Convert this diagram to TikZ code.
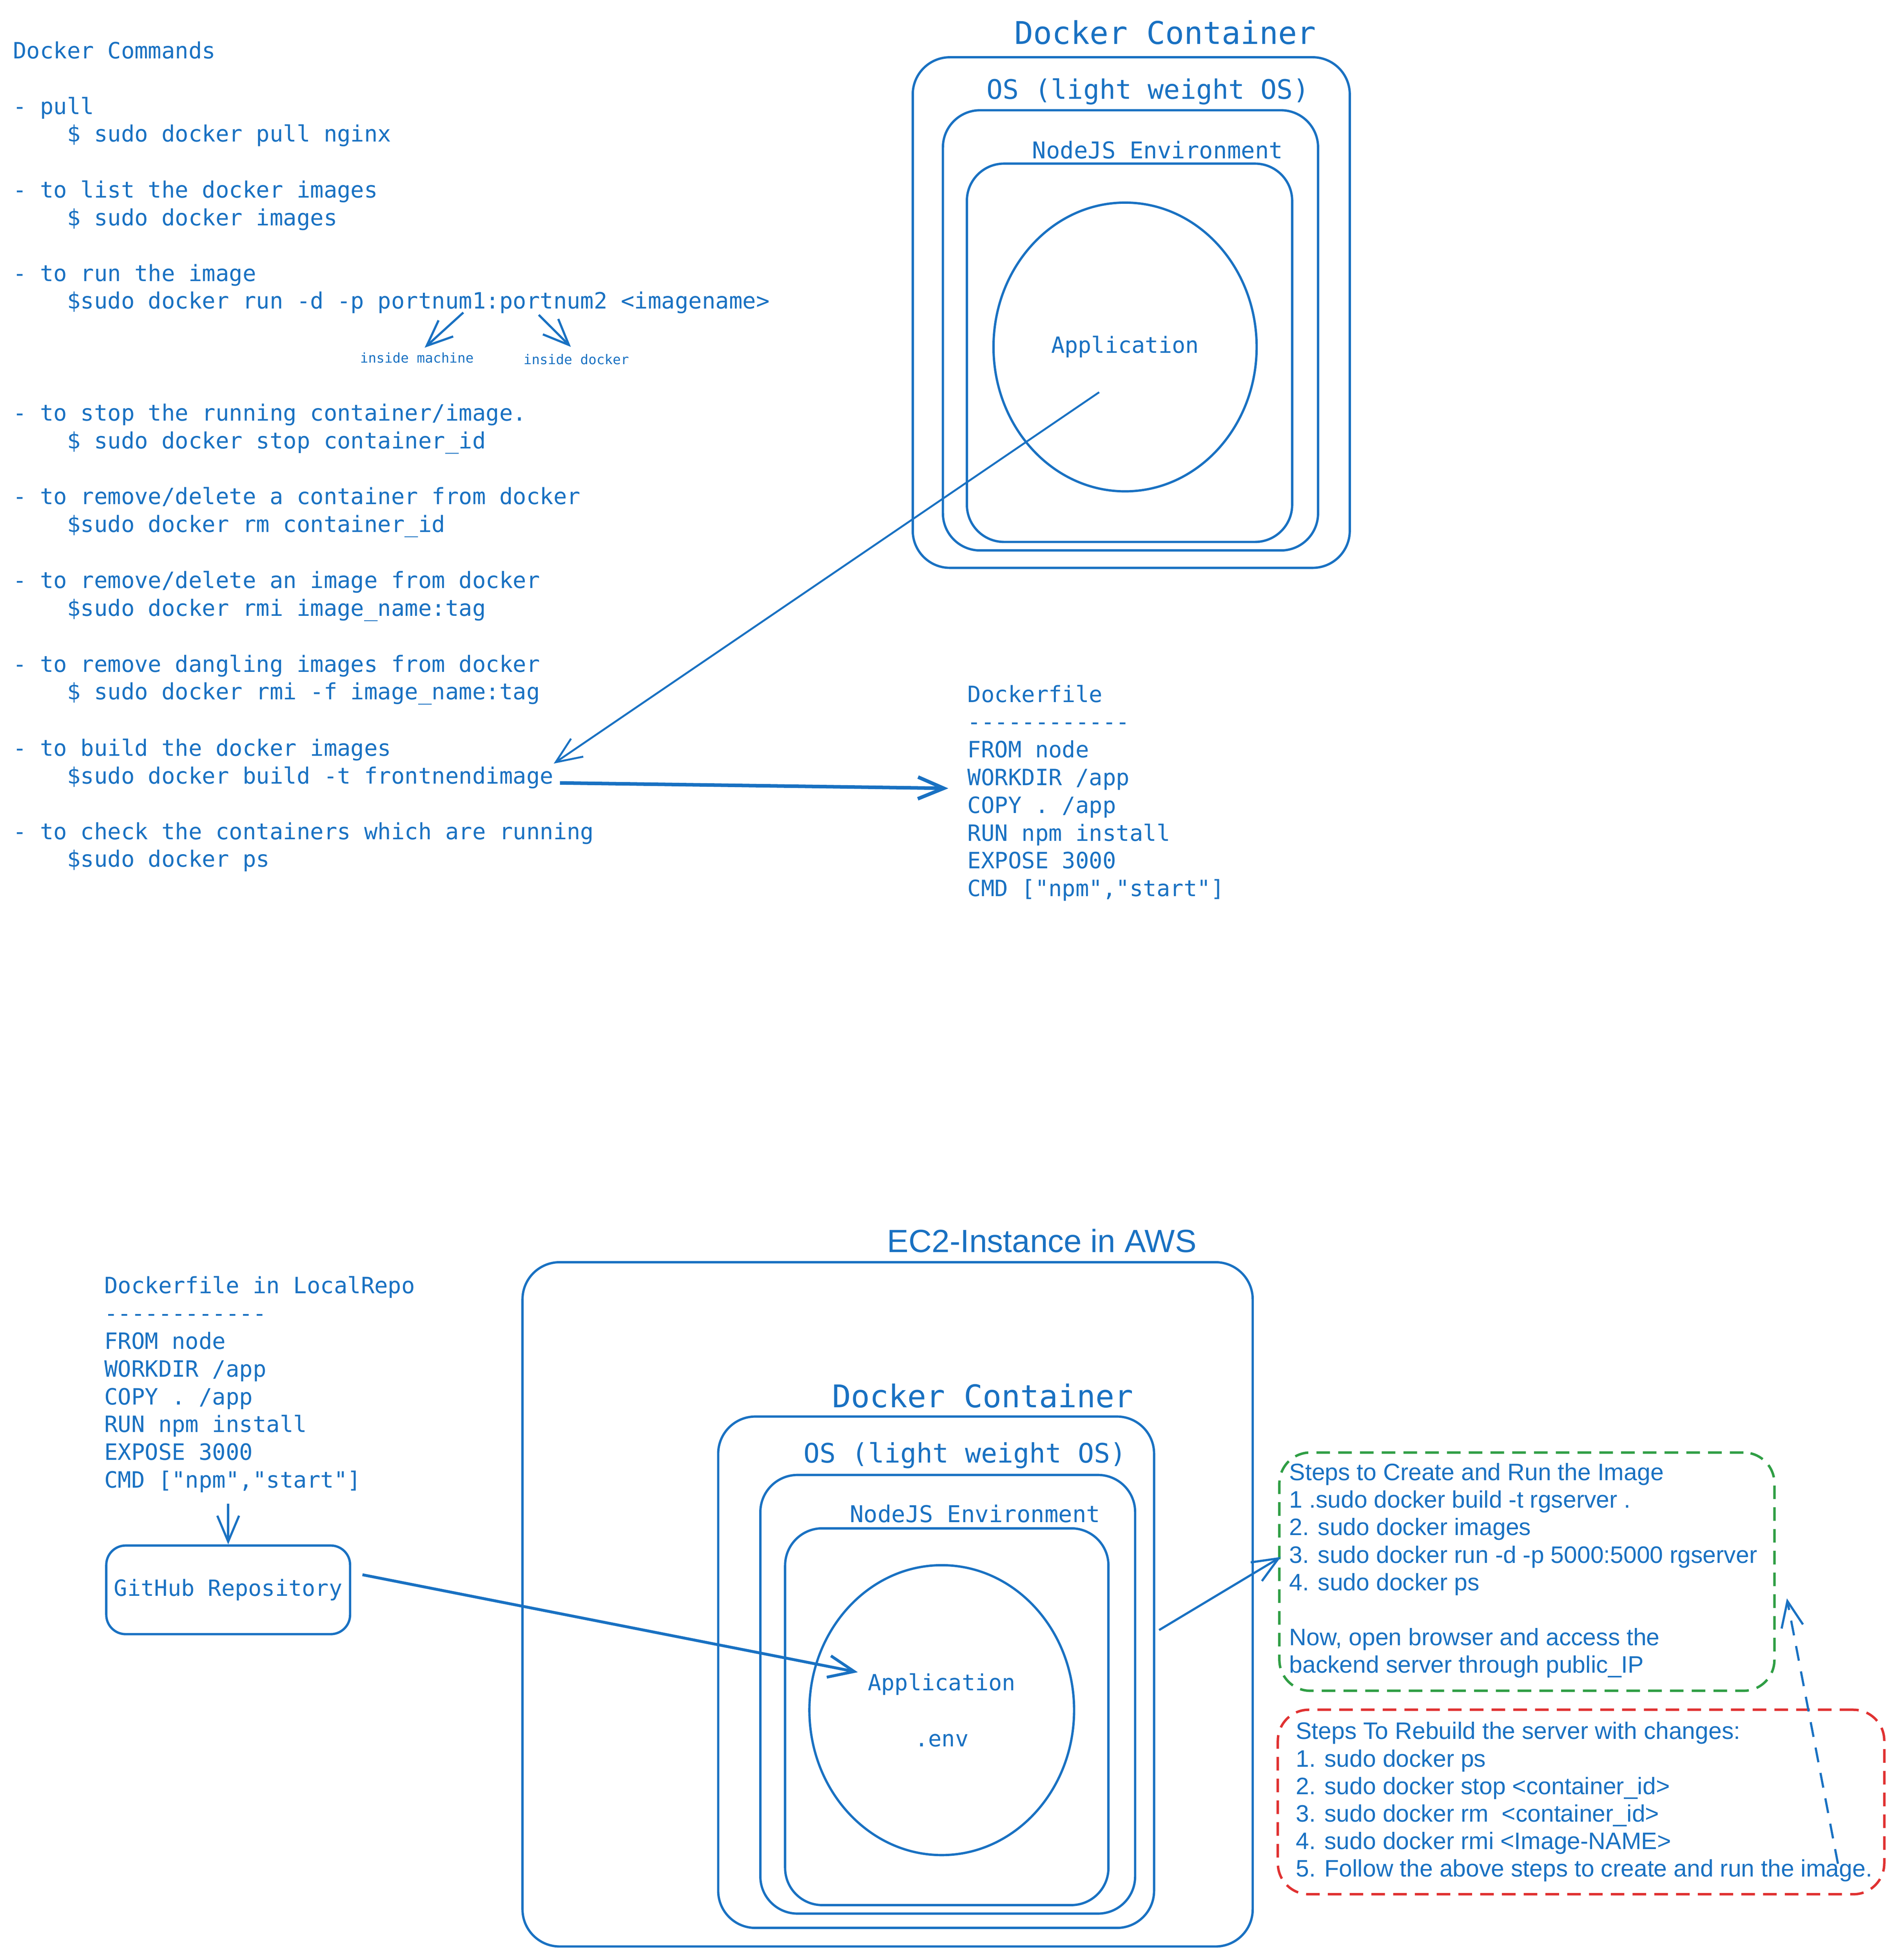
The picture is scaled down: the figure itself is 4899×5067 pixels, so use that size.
\documentclass[tikz,border=0pt]{standalone}
\usepackage{fontspec}
\setmonofont{DejaVu Sans Mono}
\setsansfont{Liberation Sans}
\usetikzlibrary{shapes.geometric, arrows.meta, positioning, calc, fit}
\definecolor{sketchblue}{HTML}{1971C2}
\definecolor{stepgreen}{HTML}{2F9E44}
\definecolor{stepred}{HTML}{E03131}
\newcommand{\ind}{\phantom{0000}}
\tikzstyle{cmdtext} = [font=\ttfamily\fontsize{16.5}{20.4}\selectfont, text=sketchblue, align=left, anchor=north west, inner sep=0pt]
\tikzstyle{notetext} = [font=\ttfamily\fontsize{9.9}{12}\selectfont, text=sketchblue, inner sep=0pt]
\tikzstyle{steptext} = [font=\sffamily\fontsize{17.5}{20.2}\selectfont, text=sketchblue, align=left, anchor=north west, inner sep=0pt]
\tikzstyle{bigtitle} = [font=\ttfamily\fontsize{23}{28}\selectfont, text=sketchblue, inner sep=0pt]
\tikzstyle{ostitle} = [font=\ttfamily\fontsize{19.7}{24}\selectfont, text=sketchblue, inner sep=0pt]
\tikzstyle{envtitle} = [font=\ttfamily\fontsize{17}{21}\selectfont, text=sketchblue, inner sep=0pt]
\tikzstyle{ec2title} = [font=\sffamily\fontsize{23.6}{28}\selectfont, text=sketchblue, inner sep=0pt]
\tikzstyle{layerbox} = [rectangle, rounded corners=0.96cm, draw=sketchblue, line width=1.7pt, inner sep=0pt]
\tikzstyle{appcircle} = [ellipse, draw=sketchblue, line width=1.7pt, font=\ttfamily\fontsize{16.4}{20.5}\selectfont, text=sketchblue, align=center, inner sep=0pt]
\tikzstyle{repobox} = [rectangle, rounded corners=0.5cm, draw=sketchblue, line width=1.7pt, minimum width=6.3cm, minimum height=2.29cm, inner sep=0pt, font=\ttfamily\fontsize{16.4}{20.5}\selectfont, text=sketchblue]
\tikzstyle{stepbox} = [rectangle, rounded corners=0.8cm, line width=1.8pt, dash pattern=on 10pt off 6pt, inner sep=0pt]
\tikzstyle{arrow} = [sketchblue, line width=1.6pt, -{Straight Barb[length=19pt,width=16pt]}]

\begin{document}
\begin{tikzpicture}[x=0.01cm, y=-0.01cm]
  \useasboundingbox[fill=white] (0,0) rectangle (4899,5067);

  \node[cmdtext] (cmdtitle) at (33,107) {Docker Commands};
  \node[cmdtext] (pull) at (33,250) {- pull\\\ind\$ sudo docker pull nginx};
  \node[cmdtext] (list) at (33,466) {- to list the docker images\\\ind\$ sudo docker images};
  \node[cmdtext] (run) at (33,682) {- to run the image\\\ind\$sudo docker run -d -p portnum1:portnum2 <imagename>};
  \node[cmdtext] (stop) at (33,1043) {- to stop the running container/image.\\\ind\$ sudo docker stop container\_id};
  \node[cmdtext] (rmcont) at (33,1259) {- to remove/delete a container from docker\\\ind\$sudo docker rm container\_id};
  \node[cmdtext] (rmimage) at (33,1476) {- to remove/delete an image from docker\\\ind\$sudo docker rmi image\_name:tag};
  \node[cmdtext] (dangling) at (33,1692) {- to remove dangling images from docker\\\ind\$ sudo docker rmi -f image\_name:tag};
  \node[cmdtext] (build) at (33,1909) {- to build the docker images\\\ind\$sudo docker build -t frontnendimage};
  \node[cmdtext] (ps) at (33,2125) {- to check the containers which are running\\\ind\$sudo docker ps};

  \node[notetext] (machine) at (1078,925) {inside machine};
  \node[notetext] (dockerside) at (1490,929) {inside docker};
  \coordinate (port1) at (1198,808);
  \coordinate (port2) at (1393,814);
  \draw[arrow] (port1) -- ($(machine.north)+(20,-12)$);
  \draw[arrow] (port2) -- ($(dockerside.north)+(-14,-18)$);

  \node[bigtitle] (dc1title) at (3013,84) {Docker Container};
  \node[layerbox, fit={(2360,148) (3490,1468)}] (dc1) {};
  \node[ostitle] (os1title) at (2968,237) {OS (light weight OS)};
  \node[layerbox, fit={(2438,285) (3408,1423)}] (os1) {};
  \node[envtitle] (env1title) at (2993,388) {NodeJS Environment};
  \node[layerbox, fit={(2500,423) (3341,1401)}] (env1) {};
  \node[appcircle, minimum width=6.8cm, minimum height=7.46cm] (app1) at (2909,897) {Application};

  \node[cmdtext] (dockerfile) at (2501,1770) {Dockerfile\\------------\\FROM node\\WORKDIR /app\\COPY . /app\\RUN npm install\\EXPOSE 3000\\CMD ["npm","start"]};

  \draw[arrow, line width=1.4pt] ($(app1)+(-67,117)$) -- (build.east);
  \draw[arrow, line width=2.6pt] ($(build.east)+(16,50)$) -- ($(dockerfile.west)+(-49,-12)$);

  \node[ec2title] (ec2title) at (2694,3208) {EC2-Instance in AWS};
  \node[layerbox, fit={(1351,3263) (3239,5032)}] (ec2) {};
  \node[bigtitle] (dc2title) at (2541,3608) {Docker Container};
  \node[layerbox, fit={(1857,3662) (2984,4984)}] (dc2) {};
  \node[ostitle] (os2title) at (2495,3762) {OS (light weight OS)};
  \node[layerbox, fit={(1966,3813) (2935,4947)}] (os2) {};
  \node[envtitle] (env2title) at (2521,3913) {NodeJS Environment};
  \node[layerbox, fit={(2030,3951) (2866,4925)}] (env2) {};
  \node[appcircle, minimum width=6.84cm, minimum height=7.49cm] (app2) at (2435,4421) {Application\\\mbox{}\\.env};

  \node[cmdtext] (localrepo) at (269,3299) {Dockerfile in LocalRepo\\------------\\FROM node\\WORKDIR /app\\COPY . /app\\RUN npm install\\EXPOSE 3000\\CMD ["npm","start"]};
  \node[repobox] (github) at (590,4110) {GitHub Repository};
  \draw[arrow, shorten <=0.28cm] (localrepo.south -| github.north) -- (github.north);
  \draw[arrow, line width=2.1pt] ($(github.east)+(29,-39)$) -- ($(app2)+(-217,-98)$);

  \node[stepbox, draw=stepgreen, fit={(3308,3755) (4588,4371)}] (createsteps) {};
  \node[steptext] (createtext) at (3333,3782) {Steps to Create and Run the Image\\1 .sudo docker build -t rgserver .\\2. sudo docker images\\3. sudo docker run -d -p 5000:5000 rgserver\\4. sudo docker ps\\\mbox{}\\Now, open browser and access the\\backend server through public\_IP};
  \node[stepbox, draw=stepred, fit={(3304,4420) (4872,4897)}] (rebuildsteps) {};
  \node[steptext] (rebuildtext) at (3350,4451) {Steps To Rebuild the server with changes:\\1. sudo docker ps\\2. sudo docker stop <container\_id>\\3. sudo docker rm\ \ <container\_id>\\4. sudo docker rmi <Image-NAME>\\5. Follow the above steps to create and run the image.};

  \draw[arrow] ($(dc2.east)+(10,-109)$) -- ($(createsteps.west)+(7,-38)$);
  \draw[arrow, dash pattern=on 11pt off 8pt] ($(rebuildsteps.south east)+(-123,-82)$) -- ($(createsteps.east)+(29,69)$);
\end{tikzpicture}
\end{document}
